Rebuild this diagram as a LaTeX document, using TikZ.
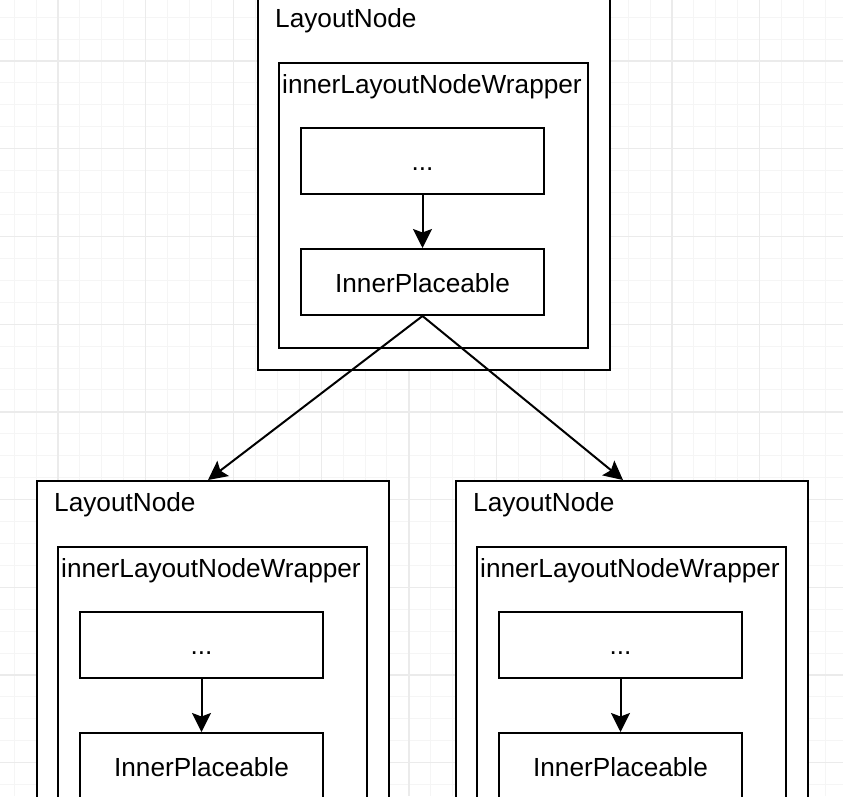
\documentclass[tikz,border=0pt]{standalone}
\usepackage{fontspec}
\setmainfont{Liberation Sans}
\usetikzlibrary{calc,arrows.meta}
\begin{document}
\begin{tikzpicture}[x=1pt,y=-1pt,
  gminor/.style={draw=black!4,line width=1pt},
  gmajor/.style={draw=black!8,line width=1.3pt},
  box/.style={draw=black,fill=white,line width=2pt,inner sep=0pt,anchor=north west},
  txt/.style={font=\fontsize{26.2}{30}\selectfont,inner sep=0pt,anchor=base west},
  ctxt/.style={font=\fontsize{26.2}{30}\selectfont,inner sep=0pt,anchor=base},
  arr/.style={draw=black,line width=2pt,-{Stealth[length=19pt,width=19pt,inset=3.5pt]}}
]
\useasboundingbox (0,0) rectangle (843,796);
\clip (0,0) rectangle (843,796);
\fill[white] (0,0) rectangle (843,796);
% grid
\foreach \i in {-3,...,37} {
  \draw[gminor] ({58+21.93*\i},0) -- ({58+21.93*\i},796);
  \draw[gminor] (0,{61+21.93*\i}) -- (843,{61+21.93*\i});
}
\foreach \i in {-1,...,9} {
  \draw[gmajor] ({58+87.72*\i},0) -- ({58+87.72*\i},796);
  \draw[gmajor] (0,{61+87.72*\i}) -- (843,{61+87.72*\i});
}
% one LayoutNode group
\newcommand{\lngroup}[3]{%
  \node[box,minimum width=352pt,minimum height=373pt] (#3o) at (#1,#2) {};
  \node[txt] (#3ot) at ($(#3o.north west)+(18,31)$) {LayoutNode};
  \node[box,minimum width=309pt,minimum height=285pt] (#3w) at ($(#3o.north west)+(21,66)$) {};
  \node[txt] (#3wt) at ($(#3w.north west)+(4,31)$) {innerLayoutNodeWrapper};
  \node[box,minimum width=243pt,minimum height=66pt] (#3d) at ($(#3w.north west)+(22,65)$) {};
  \node[ctxt] (#3dt) at ($(#3d.north)+(0,43)$) {...};
  \node[box,minimum width=243pt,minimum height=66pt] (#3p) at ($(#3w.north west)+(22,186)$) {};
  \node[ctxt] (#3pt) at ($(#3p.north)+(0,44)$) {InnerPlaceable};
  \draw[arr] (#3d.south) -- (#3p.north);
}
\lngroup{257}{-4}{t}
\lngroup{36}{480}{l}
\lngroup{455}{480}{r}
\coordinate (lend) at ($(lo.north west)+(172,0)$);
\coordinate (rend) at ($(ro.north west)+(168,0)$);
\draw[arr] (tp.south) -- (lend);
\draw[arr] (tp.south) -- (rend);
\end{tikzpicture}
\end{document}
